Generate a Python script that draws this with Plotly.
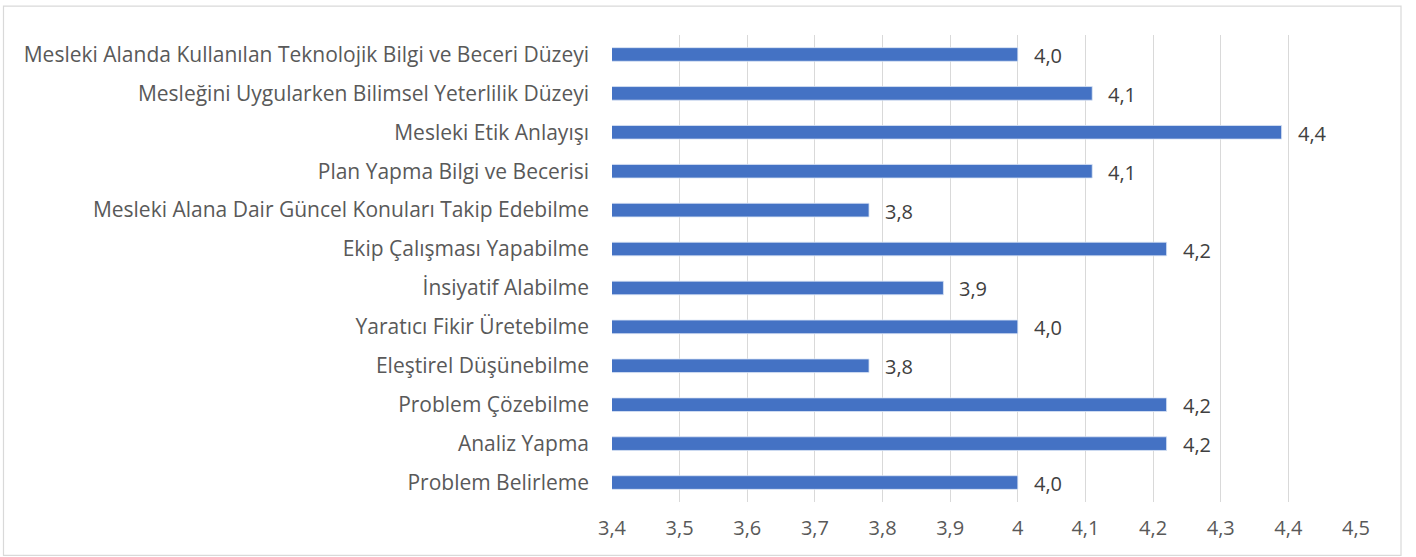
import plotly.graph_objects as go

categories = [
    "Mesleki Alanda Kullanılan Teknolojik Bilgi ve Beceri Düzeyi",
    "Mesleğini Uygularken Bilimsel Yeterlilik Düzeyi",
    "Mesleki Etik Anlayışı",
    "Plan Yapma Bilgi ve Becerisi",
    "Mesleki Alana Dair Güncel Konuları Takip Edebilme",
    "Ekip Çalışması Yapabilme",
    "İnsiyatif Alabilme",
    "Yaratıcı Fikir Üretebilme",
    "Eleştirel Düşünebilme",
    "Problem Çözebilme",
    "Analiz Yapma",
    "Problem Belirleme",
]
values = [4.0, 4.11, 4.39, 4.11, 3.78, 4.22, 3.89, 4.0, 3.78, 4.22, 4.22, 4.0]
x_ticks = [3.4, 3.5, 3.6, 3.7, 3.8, 3.9, 4.0, 4.1, 4.2, 4.3, 4.4, 4.5]

FONT = "Open Sans"
TXT = "#595959"

fig = go.Figure()
fig.add_trace(go.Bar(
    x=values, y=categories, orientation="h",
    marker=dict(color="#4472C4", line=dict(color="#dbe4f5", width=0.8)),
    width=0.35, hoverinfo="skip",
))

annotations = [
    dict(x=v, y=c, xref="x", yref="y", text=f"{v:.1f}".replace(".", ","),
         showarrow=False, xanchor="left", yanchor="middle", xshift=14, yshift=-1,
         font=dict(family=FONT, size=20, color="#404040"))
    for c, v in zip(categories, values)
]

fig.update_layout(
    width=1416, height=557,
    margin=dict(l=612, r=60, t=34.5, b=54.5),
    paper_bgcolor="white", plot_bgcolor="white",
    separators=",.",
    showlegend=False,
    font=dict(family=FONT, size=20, color=TXT),
    annotations=annotations,
    shapes=[dict(type="rect", xref="paper", yref="paper",
                 x0=-0.8179, x1=1.0605, y0=-0.1143, y1=1.062,
                 line=dict(color="#d9d9d9", width=1.2), layer="below")],
)
fig.update_xaxes(
    range=[3.4, 4.5], tickvals=x_ticks, showgrid=True, gridcolor="#d9d9d9", gridwidth=1.2,
    zeroline=False, showline=False, ticks="", ticklabelstandoff=12,
    tickfont=dict(family=FONT, size=20, color=TXT),
)
fig.update_yaxes(
    autorange="reversed", showgrid=False, showline=False, ticks="",
    ticklabelstandoff=22, tickfont=dict(family=FONT, size=21, color=TXT),
)

fig.write_html("out.html", config={"displayModeBar": False},
               post_script="document.body.style.margin='0';")
